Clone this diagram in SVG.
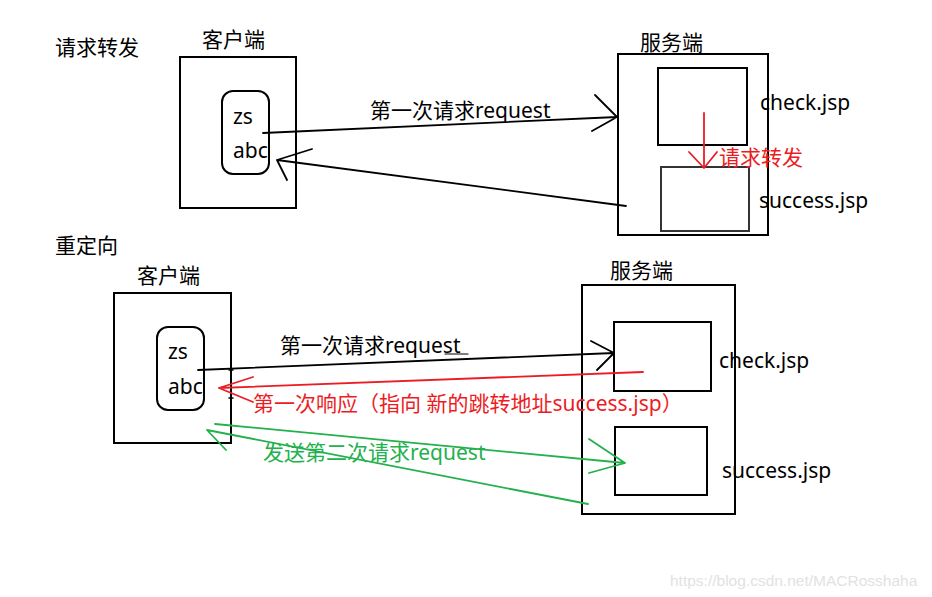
<svg xmlns="http://www.w3.org/2000/svg" width="932" height="597" viewBox="0 0 932 597">
<style>
text{font-family:"Noto Sans","Noto Sans CJK SC",sans-serif;font-size:21px;fill:#000}
.box{fill:none;stroke:#000;stroke-width:2}
.k{fill:none;stroke:#000;stroke-width:1.8;stroke-linecap:round;stroke-linejoin:round}
.r{fill:none;stroke:#ed1c24;stroke-width:1.8;stroke-linecap:round;stroke-linejoin:round}
.g{fill:none;stroke:#22b14c;stroke-width:1.8;stroke-linecap:round;stroke-linejoin:round}
.red{fill:#ed1c24}
.grn{fill:#22b14c}
.wm{font-family:"Liberation Sans",Arial,sans-serif;font-size:15.5px;fill:#e2e2e2}
</style>
<rect width="932" height="597" fill="#fff"/>

<g id="title-forward"><text x="55" y="55">请求转发</text></g>
<g id="title-redirect"><text x="55" y="253">重定向</text></g>

<g id="client-top">
<text x="202" y="47">客户端</text>
<rect class="box" x="180" y="57" width="116" height="151"/>
<rect class="box" x="222" y="91" width="47" height="83" rx="11"/>
<text x="233" y="124">zs</text>
<text x="233" y="158">abc</text>
</g>

<g id="server-top">
<text x="640" y="50">服务端</text>
<rect class="box" x="618" y="54" width="150" height="181"/>
<rect class="box" x="658" y="68" width="89" height="77"/>
<rect class="box" x="661" y="167" width="88" height="64" style="stroke:#333"/>
<text x="760" y="110">check.jsp</text>
<text x="759" y="208">success.jsp</text>
</g>

<g id="client-bottom">
<text x="137" y="283">客户端</text>
<rect class="box" x="114" y="293" width="117" height="150"/>
<rect class="box" x="157" y="327" width="47" height="83" rx="11"/>
<text x="168" y="359">zs</text>
<text x="168" y="394">abc</text>
</g>

<g id="server-bottom">
<text x="610" y="278">服务端</text>
<rect class="box" x="582" y="285" width="153" height="229"/>
<rect class="box" x="614" y="322" width="97" height="69"/>
<rect class="box" x="615" y="427" width="92" height="68"/>
<text x="719" y="368">check.jsp</text>
<text x="722" y="478">success.jsp</text>
</g>

<g id="connectors">
<!-- top: first request -->
<path class="k" d="M263 133 L617 117 M595 95 L617 117 L592 131"/>
<!-- top: response -->
<path class="k" d="M626 206 L277 160 M312 149 L277 160 L287 180"/>
<!-- top: forward -->
<path class="r" d="M704 113 L704 168 M689 152 L704 168 L717 152"/>
<!-- bottom: first request -->
<path class="k" d="M198 370 L614 353 M591 341 L614 353 L597 370"/>
<path class="k" d="M229 370 L233 370 M229 398 L233 398" style="stroke-width:1.5"/>
<path class="k" d="M445 354 L468 354" style="stroke-width:1.2"/>
<!-- bottom: first response -->
<path class="r" d="M643 372 L219 388 M253 377 L219 388 L253 402"/>
<!-- bottom: second request -->
<path class="g" d="M215 424 L625 463 M589 439 L625 463 L589 473"/>
<path class="g" d="M588 504 L207 430 L226 450"/>
</g>

<g id="labels">
<text x="370" y="118">第一次请求request</text>
<text x="719" y="165" class="red">请求转发</text>
<text x="280" y="353">第一次请求request</text>
<text x="253" y="411" class="red">第一次响应（指向 新的跳转地址success.jsp）</text>
<text x="263" y="460" class="grn">发送第二次请求request</text>
</g>

<text class="wm" x="670" y="586">https://blog.csdn.net/MACRosshaha</text>
</svg>
